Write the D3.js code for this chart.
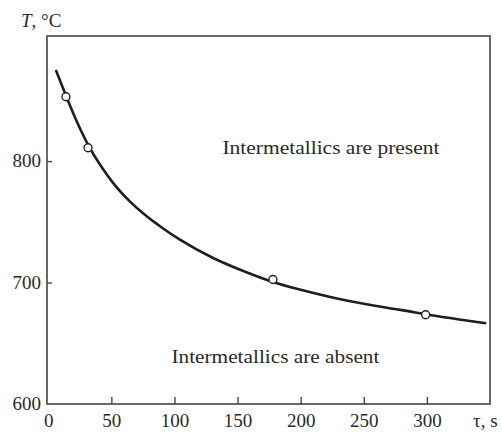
<!DOCTYPE html>
<html>
<head>
<meta charset="utf-8">
<script src="https://cdn.jsdelivr.net/npm/d3@7"></script>
<style>
    body { margin: 0; background: #fff; }
    #chart { width: 502px; height: 436px; }
    text { font-family: "Liberation Serif", "Times New Roman", serif; fill: #2a2a2a; }
</style>
</head>
<body>
<div id="chart"></div>
<script>
// boundary curve
const curveTau = [6, 10, 14, 22, 32, 42, 51, 64, 78, 91, 104, 131, 157, 178, 200, 226, 250, 279, 310, 347];
const curveTemp = [875, 864.5, 854, 834, 812.5, 795.5, 782.5, 767.5, 754.5, 744.5, 735.5, 720, 708.5, 700.5, 694, 687.5, 682.5, 677.5, 672, 666.5];

// measured points
const pointTau = [14, 31.5, 178, 299];
const pointTemp = [853, 811, 702.5, 673.5];

// ticks
const xTicks = [0, 50, 100, 150, 200, 250, 300];
const yTicks = [600, 700, 800];

// region labels
const regionLabels = ["Intermetallics are present", "Intermetallics are absent"];
const regionTau = [224, 180];
const regionTemp = [806, 633.5];
const regionWidth = [217, 208];

class BoundaryChart {
    constructor(parentElement) {
        this.parentElement = parentElement;
        this.initVis();
    }

    initVis() {
        let vis = this;

        vis.margin = { top: 36, right: 12, bottom: 32, left: 47 };
        vis.width = 502 - vis.margin.left - vis.margin.right;
        vis.height = 436 - vis.margin.top - vis.margin.bottom;

        vis.svg = d3.select(`#${vis.parentElement}`).append("svg")
            .attr("width", 502)
            .attr("height", 436)
            .append("g")
            .attr("transform", `translate(${vis.margin.left},${vis.margin.top})`);

        vis.x = d3.scaleLinear().domain([-1, 350]).range([0, vis.width]);
        vis.y = d3.scaleLinear().domain([600, 903]).range([vis.height, 0]);

        // frame
        vis.svg.append("rect")
            .attr("width", vis.width)
            .attr("height", vis.height)
            .attr("fill", "none")
            .attr("stroke", "#444")
            .attr("stroke-width", 1.6);

        // ticks point inward
        vis.svg.append("g")
            .attr("transform", `translate(0,${vis.height})`)
            .call(d3.axisBottom(vis.x).tickValues(xTicks).tickSize(-7).tickPadding(10)
                .tickFormat(d3.format("d")))
            .call(g => g.select(".domain").remove())
            .call(g => g.selectAll(".tick line").attr("stroke", "#444").attr("stroke-width", 1.4)
                .attr("display", d => d === 0 ? "none" : null))
            .call(g => g.selectAll("text")
                .style("font-size", "19px")
                .style("font-family", "'Liberation Serif', serif")
                .attr("fill", "#2a2a2a"));

        vis.svg.append("g")
            .call(d3.axisLeft(vis.y).tickValues(yTicks).tickSize(-5).tickPadding(6)
                .tickFormat(d3.format("d")))
            .call(g => g.select(".domain").remove())
            .call(g => g.selectAll(".tick line").attr("stroke", "#444").attr("stroke-width", 1.4)
                .attr("display", d => d === 600 ? "none" : null))
            .call(g => g.selectAll("text")
                .style("font-size", "19px")
                .style("font-family", "'Liberation Serif', serif")
                .attr("fill", "#2a2a2a")
                .attr("dy", "0.3em"));

        // axis labels
        const yLabel = vis.svg.append("text")
            .attr("x", -26)
            .attr("y", -9)
            .style("font-size", "19px");
        yLabel.append("tspan").attr("font-style", "italic").text("T");
        yLabel.append("tspan").text(", °C");

        vis.svg.append("text")
            .attr("x", 426)
            .attr("y", vis.height + 23)
            .style("font-size", "19px")
            .text("τ, s");

        vis.wrangleData();
    }

    wrangleData() {
        let vis = this;
        vis.curveData = curveTau.map((t, i) => ({ tau: t, temp: curveTemp[i] }));
        vis.pointData = pointTau.map((t, i) => ({ tau: t, temp: pointTemp[i] }));
        vis.labelData = regionLabels.map((l, i) => ({ label: l, tau: regionTau[i], temp: regionTemp[i], w: regionWidth[i] }));
        vis.updateVis();
    }

    updateVis() {
        let vis = this;

        const line = d3.line()
            .x(d => vis.x(d.tau))
            .y(d => vis.y(d.temp))
            .curve(d3.curveMonotoneX);

        vis.svg.append("path")
            .datum(vis.curveData)
            .attr("d", line)
            .attr("fill", "none")
            .attr("stroke", "#1e1e1e")
            .attr("stroke-width", 2.6);

        vis.svg.selectAll("circle.pt").data(vis.pointData)
            .enter().append("circle")
            .attr("class", "pt")
            .attr("cx", d => vis.x(d.tau))
            .attr("cy", d => vis.y(d.temp))
            .attr("r", 4)
            .attr("fill", "#fff")
            .attr("stroke", "#1e1e1e")
            .attr("stroke-width", 1.4);

        vis.svg.selectAll("text.region").data(vis.labelData)
            .enter().append("text")
            .attr("class", "region")
            .attr("x", d => vis.x(d.tau))
            .attr("y", d => vis.y(d.temp))
            .attr("text-anchor", "middle")
            .style("font-size", "18px")
            .attr("textLength", d => d.w)
            .attr("lengthAdjust", "spacingAndGlyphs")
            .text(d => d.label);
    }
}

new BoundaryChart("chart");
</script>
</body>
</html>
